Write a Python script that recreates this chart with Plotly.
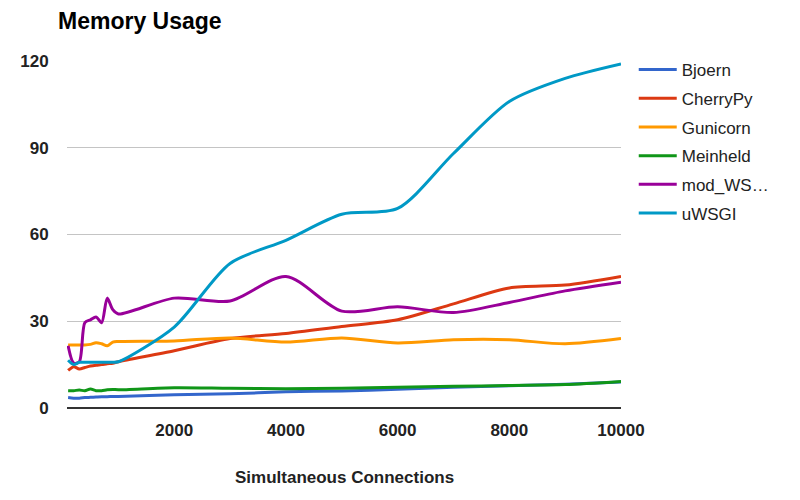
import plotly.graph_objects as go

connections = [100, 200, 300, 400, 500, 600, 700, 800, 900, 1000,
               2000, 3000, 4000, 5000, 6000, 7000, 8000, 9000, 10000]

bjoern = [3.6, 3.4, 3.4, 3.6, 3.7, 3.8, 3.9, 3.9, 4.0, 4.0,
          4.6, 4.9, 5.6, 5.9, 6.5, 7.2, 7.7, 8.2, 9.0]
cherrypy = [13.0, 14.3, 13.5, 14.0, 14.5, 14.8, 15.0, 15.3, 15.5, 16.0,
            19.8, 24.0, 25.8, 28.2, 30.5, 36.0, 41.5, 42.5, 45.5]
gunicorn = [21.8, 21.8, 21.8, 21.8, 22.0, 22.6, 22.2, 21.5, 22.8, 23.0,
            23.2, 24.2, 22.8, 24.2, 22.5, 23.6, 23.6, 22.2, 24.0]
meinheld = [6.0, 6.0, 6.2, 6.0, 6.6, 6.0, 6.0, 6.3, 6.4, 6.3,
            7.0, 6.8, 6.7, 6.8, 7.2, 7.5, 7.8, 8.1, 9.2]
mod_wsgi = [21.5, 15.5, 16.0, 29.5, 30.5, 31.5, 29.5, 38.0, 34.0, 32.5,
            38.0, 37.0, 45.5, 33.5, 35.0, 33.0, 36.5, 40.5, 43.5]
uwsgi = [16.5, 15.0, 15.8, 15.8, 15.8, 15.8, 15.8, 15.8, 15.8, 16.0,
         28.0, 50.0, 58.0, 67.0, 69.0, 88.0, 106.0, 114.0, 119.0]

series_names = ["Bjoern", "CherryPy", "Gunicorn", "Meinheld", "mod_WS\u2026", "uWSGI"]
series_values = [bjoern, cherrypy, gunicorn, meinheld, mod_wsgi, uwsgi]
colors = ["#3366cc", "#dc3912", "#ff9900", "#109618", "#990099", "#0099c6"]

x_ticks = [2000, 4000, 6000, 8000, 10000]
y_ticks = [0, 30, 60, 90, 120]

FONT = "Liberation Sans, Arial, sans-serif"

fig = go.Figure()
for i, (name, vals, col) in enumerate(zip(series_names, series_values, colors)):
    fig.add_trace(go.Scatter(
        x=connections, y=vals, name=name, mode="lines",
        line=dict(color=col, width=3, shape="spline", smoothing=0.8),
        legendgroup="g%d" % i,
    ))

# page body adds an 8px margin, so the figure is 792x492 and shifted by 8px
W, H = 792, 492
fig.update_layout(
    width=W, height=H,
    margin=dict(l=49, r=179, t=53, b=92),
    paper_bgcolor="white", plot_bgcolor="white",
    font=dict(family=FONT, color="#222"),
    title=dict(text="<b>Memory Usage</b>", xref="container", yref="container",
               x=50 / W, y=1 - 5 / H, xanchor="left", yanchor="top",
               font=dict(size=23, color="#000", family=FONT)),
    showlegend=True,
    legend=dict(x=1.023, xanchor="left", y=1 + 9 / 347, yanchor="top",
                font=dict(size=17, color="#222", family=FONT), tracegroupgap=3.6,
                itemwidth=38, bgcolor="rgba(0,0,0,0)"),
    xaxis=dict(range=[80, 10000], tickvals=x_ticks,
               ticktext=["<b>%d</b>" % v for v in x_ticks],
               showgrid=False, zeroline=False, showline=False,
               ticks="outside", ticklen=7, tickcolor="rgba(0,0,0,0)",
               tickfont=dict(size=17, color="#222", family=FONT),
               fixedrange=True),
    yaxis=dict(range=[0, 120], tickvals=y_ticks,
               ticktext=["<b>%d</b>" % v for v in y_ticks],
               showgrid=True, gridcolor="#c4c4c4", gridwidth=1.3,
               zeroline=True, zerolinecolor="#333", zerolinewidth=1.6,
               showline=False,
               ticks="outside", ticklen=14, tickcolor="rgba(0,0,0,0)",
               tickfont=dict(size=17, color="#222", family=FONT),
               fixedrange=True),
    annotations=[dict(text="<b>Simultaneous Connections</b>", xref="paper", yref="paper",
                      x=0.5, y=(408 - 477) / 347, xanchor="center", yanchor="middle",
                      showarrow=False, font=dict(size=17, color="#222", family=FONT))],
)

fig.write_html("out.html")
